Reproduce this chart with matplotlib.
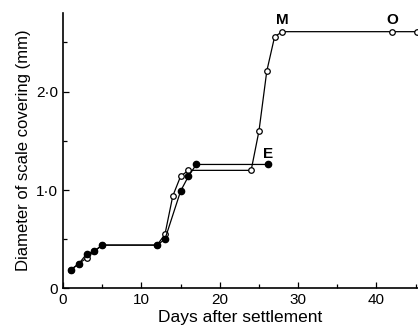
import matplotlib
matplotlib.use("Agg")
import matplotlib.pyplot as plt
from matplotlib.ticker import MultipleLocator

# filled circles (E)
days_filled = [1, 2, 3, 4, 5, 12, 13, 15, 16, 17, 26.2]
diam_filled = [0.19, 0.25, 0.35, 0.38, 0.44, 0.44, 0.50, 0.99, 1.14, 1.26, 1.26]

# open circles (M, O)
days_open = [1, 2, 3, 4, 5, 12, 13, 14, 15, 16, 24, 25, 26, 27, 28, 42, 45.2]
diam_open = [0.19, 0.25, 0.31, 0.38, 0.44, 0.44, 0.55, 0.94, 1.14, 1.20, 1.20,
             1.60, 2.21, 2.56, 2.61, 2.61, 2.61]

labels = ["E", "M", "O"]
label_pos = [(26.1, 1.30), (28.0, 2.66), (42.0, 2.66)]

plt.rcParams['font.family'] = ['Liberation Sans', 'DejaVu Sans']

fig = plt.figure(figsize=(4.18, 3.33), dpi=100)
ax = fig.add_axes([0.151, 0.134, 0.849, 0.827])

ax.plot(days_open, diam_open, '-o', color='black', lw=0.9, ms=4,
        mfc='white', mew=0.9, clip_on=False, zorder=3)
ax.plot(days_filled, diam_filled, '-o', color='black', lw=0.9, ms=4.5,
        mfc='black', clip_on=False, zorder=4)

for lab, (x, y) in zip(labels, label_pos):
    ax.text(x, y, lab, ha='center', va='bottom', fontsize=11, fontweight='bold')

ax.set_xlim(0, 45.3)
ax.set_ylim(0, 2.8)
ax.xaxis.set_major_locator(MultipleLocator(10))
ax.xaxis.set_minor_locator(MultipleLocator(5))
ax.yaxis.set_major_locator(MultipleLocator(1))
ax.yaxis.set_minor_locator(MultipleLocator(0.5))
ax.set_yticks([0, 1, 2])
ax.set_yticklabels(['0', '1\u00b70', '2\u00b70'])
ax.tick_params(which='both', direction='in', labelsize=11, width=0.9)
ax.tick_params(which='major', length=4)
ax.tick_params(which='minor', length=3)

for s in ['top', 'right']:
    ax.spines[s].set_visible(False)
for s in ['left', 'bottom']:
    ax.spines[s].set_linewidth(1.2)

ax.set_xlabel('Days after settlement', fontsize=12.5, labelpad=2)
ax.set_ylabel('Diameter of scale covering (mm)', fontsize=12, labelpad=4)

fig.savefig('out.png', dpi=100)
